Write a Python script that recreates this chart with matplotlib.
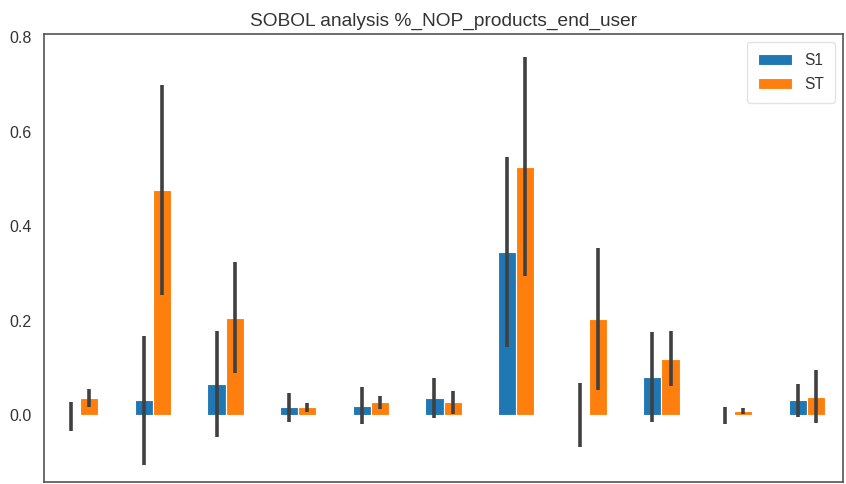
"""SOBOL sensitivity indices for %_NOP_products_end_user."""
import numpy as np
import matplotlib
matplotlib.use("Agg")
import matplotlib.pyplot as plt

# first-order and total indices per parameter, with confidence intervals
params = ["p1", "p2", "p3", "p4", "p5", "p6", "p7", "p8", "p9", "p10", "p11"]
s1 = [-0.003, 0.031, 0.066, 0.016, 0.020, 0.036, 0.345, 0.000, 0.081, -0.001, 0.031]
s1_conf = [0.030, 0.136, 0.112, 0.030, 0.039, 0.043, 0.202, 0.068, 0.095, 0.017, 0.035]
st = [0.035, 0.476, 0.206, 0.016, 0.027, 0.027, 0.526, 0.203, 0.119, 0.008, 0.039]
st_conf = [0.019, 0.222, 0.118, 0.009, 0.014, 0.024, 0.232, 0.151, 0.058, 0.006, 0.056]

plt.rcParams["font.family"] = ["Liberation Sans", "DejaVu Sans"]

fig = plt.figure(figsize=(8.46, 4.84), dpi=100)
ax = fig.add_axes([0.052, 0.004, 0.9445, 0.926])

x = np.arange(len(params))
w = 0.25
err_kw = dict(ecolor="#404040", elinewidth=2.6, capsize=0)
ax.bar(x - w / 2, s1, w, yerr=s1_conf, color="#1f77b4", edgecolor="white",
       linewidth=0.8, error_kw=err_kw, label="S1")
ax.bar(x + w / 2, st, w, yerr=st_conf, color="#ff7f0e", edgecolor="white",
       linewidth=0.8, error_kw=err_kw, label="ST")

ax.set_xlim(-0.5, len(params) - 0.5)
ax.set_ylim(-0.142, 0.807)
ax.set_yticks([0.0, 0.2, 0.4, 0.6, 0.8])
ax.set_xticks([])
ax.tick_params(axis="y", labelsize=11.5, labelcolor="#333333", length=0, pad=9)
for sp in ax.spines.values():
    sp.set_color("#555555")
    sp.set_linewidth(1.2)

ax.set_title("SOBOL analysis %_NOP_products_end_user", fontsize=13.8,
             color="#333333", pad=6)
leg = ax.legend(loc="upper right", fontsize=11.2, frameon=True,
                borderpad=0.7, handlelength=2.2, labelspacing=0.6)
leg.get_frame().set_edgecolor("#dddddd")
for t in leg.get_texts():
    t.set_color("#333333")

fig.savefig("out.png", dpi=100)
plt.close(fig)
